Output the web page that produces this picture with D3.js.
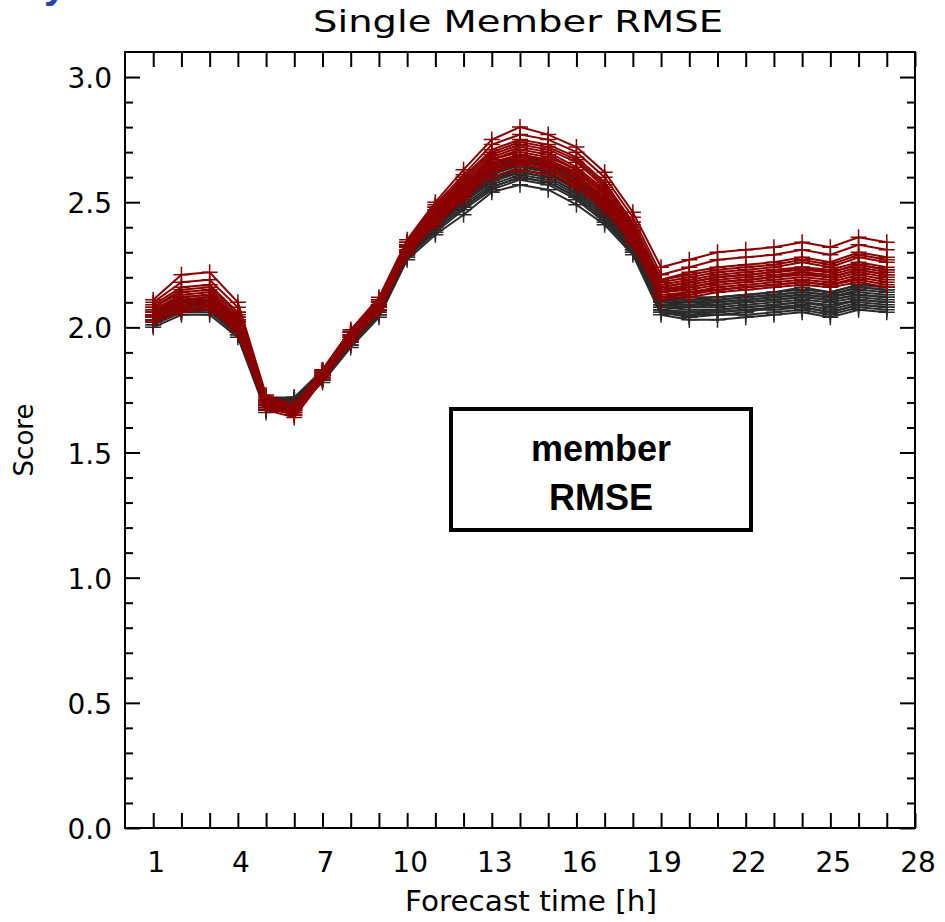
<!DOCTYPE html>
<html>
<head>
<meta charset="utf-8">
<script src="https://cdn.jsdelivr.net/npm/d3@7"></script>
<style>
  body { margin: 0; background: #fff; }
  svg { display: block; }
</style>
</head>
<body>
<div id="chart"></div>
<script>
var hours = [1,2,3,4,5,6,7,8,9,10,11,12,13,14,15,16,17,18,19,20,21,22,23,24,25,26,27];
var xTickLabels = [1,4,7,10,13,16,19,22,25,28];
var yTickLabels = [0.0,0.5,1.0,1.5,2.0,2.5,3.0];

// grey members (drawn first, underneath)
var greyMembers = [
  [2.00,2.05,2.05,1.96,1.66,1.67,1.78,1.92,2.04,2.27,2.37,2.45,2.54,2.57,2.55,2.49,2.41,2.29,2.05,2.03,2.03,2.04,2.05,2.06,2.04,2.07,2.06],
  [2.01,2.06,2.06,1.97,1.67,1.68,1.79,1.93,2.05,2.28,2.38,2.47,2.55,2.59,2.57,2.51,2.42,2.30,2.06,2.04,2.05,2.05,2.06,2.07,2.05,2.08,2.07],
  [2.01,2.07,2.08,1.97,1.67,1.68,1.79,1.93,2.05,2.28,2.39,2.48,2.56,2.60,2.58,2.52,2.43,2.31,2.07,2.05,2.06,2.07,2.07,2.08,2.06,2.09,2.08],
  [2.02,2.06,2.07,1.98,1.68,1.68,1.79,1.94,2.06,2.29,2.39,2.48,2.56,2.60,2.58,2.52,2.43,2.30,2.06,2.05,2.05,2.06,2.08,2.08,2.06,2.09,2.08],
  [2.02,2.07,2.07,1.98,1.68,1.69,1.80,1.94,2.06,2.29,2.40,2.49,2.57,2.61,2.59,2.53,2.44,2.31,2.07,2.06,2.06,2.07,2.08,2.09,2.07,2.10,2.09],
  [2.03,2.07,2.08,1.99,1.69,1.70,1.80,1.95,2.07,2.30,2.40,2.50,2.59,2.62,2.60,2.54,2.45,2.32,2.07,2.06,2.07,2.08,2.09,2.10,2.08,2.11,2.10],
  [2.03,2.08,2.08,1.99,1.69,1.69,1.80,1.95,2.07,2.30,2.41,2.50,2.58,2.62,2.60,2.54,2.45,2.32,2.08,2.07,2.07,2.08,2.09,2.10,2.09,2.11,2.10],
  [2.03,2.08,2.09,2.00,1.69,1.70,1.81,1.95,2.07,2.30,2.41,2.51,2.59,2.63,2.61,2.55,2.46,2.32,2.08,2.08,2.08,2.09,2.10,2.11,2.10,2.12,2.11],
  [2.04,2.09,2.09,2.00,1.70,1.70,1.81,1.96,2.08,2.31,2.42,2.52,2.60,2.64,2.62,2.56,2.47,2.33,2.09,2.08,2.09,2.10,2.11,2.12,2.11,2.13,2.12],
  [2.04,2.10,2.09,2.01,1.70,1.71,1.81,1.96,2.08,2.31,2.42,2.52,2.61,2.65,2.62,2.56,2.47,2.33,2.09,2.09,2.09,2.10,2.11,2.12,2.11,2.13,2.12],
  [2.04,2.09,2.10,2.01,1.70,1.70,1.81,1.96,2.08,2.31,2.43,2.53,2.61,2.65,2.63,2.57,2.47,2.34,2.10,2.09,2.10,2.11,2.12,2.13,2.12,2.14,2.13],
  [2.05,2.10,2.10,2.01,1.70,1.71,1.82,1.97,2.09,2.32,2.43,2.53,2.62,2.66,2.64,2.58,2.48,2.34,2.10,2.10,2.10,2.11,2.12,2.13,2.12,2.15,2.14],
  [2.05,2.10,2.11,2.02,1.71,1.71,1.82,1.97,2.09,2.32,2.44,2.54,2.63,2.67,2.64,2.58,2.49,2.35,2.11,2.10,2.11,2.12,2.13,2.14,2.13,2.16,2.15],
  [2.05,2.11,2.11,2.02,1.71,1.72,1.82,1.97,2.09,2.32,2.44,2.55,2.64,2.67,2.65,2.59,2.50,2.35,2.11,2.11,2.11,2.12,2.13,2.14,2.13,2.16,2.15],
  [2.06,2.11,2.11,2.02,1.71,1.72,1.82,1.98,2.10,2.33,2.45,2.55,2.64,2.68,2.65,2.59,2.50,2.36,2.12,2.11,2.12,2.13,2.14,2.15,2.14,2.17,2.16],
  [2.06,2.11,2.12,2.03,1.72,1.72,1.83,1.98,2.10,2.33,2.45,2.56,2.65,2.69,2.66,2.60,2.51,2.37,2.12,2.12,2.12,2.13,2.14,2.16,2.14,2.17,2.16]
];

// red members (on top)
var redMembers = [
  [2.02,2.06,2.07,1.98,1.67,1.64,1.79,1.94,2.06,2.29,2.41,2.51,2.60,2.63,2.61,2.56,2.47,2.33,2.11,2.12,2.14,2.15,2.16,2.17,2.16,2.18,2.16],
  [2.03,2.07,2.08,1.99,1.68,1.65,1.80,1.94,2.07,2.30,2.42,2.52,2.62,2.65,2.63,2.57,2.48,2.34,2.12,2.13,2.15,2.16,2.17,2.18,2.17,2.19,2.17],
  [2.03,2.08,2.09,2.00,1.68,1.65,1.80,1.95,2.07,2.30,2.43,2.53,2.62,2.66,2.64,2.58,2.49,2.35,2.12,2.14,2.15,2.16,2.17,2.18,2.17,2.20,2.18],
  [2.04,2.08,2.09,2.00,1.68,1.66,1.80,1.95,2.07,2.30,2.43,2.53,2.63,2.66,2.64,2.58,2.49,2.35,2.13,2.14,2.16,2.17,2.18,2.19,2.18,2.21,2.19],
  [2.05,2.09,2.10,2.01,1.69,1.66,1.81,1.95,2.08,2.31,2.44,2.54,2.64,2.67,2.65,2.60,2.50,2.36,2.14,2.15,2.17,2.18,2.19,2.20,2.19,2.22,2.20],
  [2.05,2.10,2.11,2.02,1.69,1.67,1.81,1.96,2.08,2.31,2.44,2.55,2.65,2.68,2.66,2.61,2.51,2.37,2.14,2.16,2.18,2.19,2.20,2.21,2.20,2.23,2.21],
  [2.05,2.10,2.11,2.02,1.69,1.66,1.81,1.96,2.08,2.31,2.45,2.55,2.65,2.69,2.67,2.61,2.52,2.37,2.15,2.16,2.18,2.19,2.20,2.22,2.20,2.23,2.21],
  [2.06,2.11,2.12,2.03,1.70,1.67,1.81,1.96,2.09,2.32,2.45,2.56,2.66,2.69,2.67,2.62,2.53,2.38,2.15,2.17,2.19,2.20,2.21,2.22,2.21,2.24,2.22],
  [2.06,2.12,2.13,2.03,1.70,1.67,1.82,1.97,2.09,2.32,2.46,2.57,2.67,2.71,2.69,2.63,2.54,2.39,2.16,2.18,2.20,2.21,2.22,2.24,2.22,2.25,2.23],
  [2.07,2.12,2.13,2.04,1.70,1.68,1.82,1.97,2.09,2.32,2.46,2.57,2.67,2.70,2.68,2.63,2.54,2.39,2.16,2.18,2.20,2.21,2.22,2.23,2.22,2.25,2.23],
  [2.07,2.13,2.14,2.04,1.71,1.68,1.82,1.97,2.10,2.33,2.47,2.58,2.68,2.72,2.70,2.64,2.55,2.40,2.17,2.19,2.21,2.22,2.23,2.24,2.23,2.26,2.24],
  [2.08,2.14,2.15,2.05,1.71,1.68,1.82,1.98,2.10,2.33,2.47,2.59,2.69,2.73,2.71,2.66,2.56,2.41,2.18,2.20,2.22,2.23,2.24,2.26,2.24,2.28,2.26],
  [2.08,2.15,2.16,2.06,1.71,1.68,1.82,1.98,2.10,2.33,2.48,2.60,2.70,2.74,2.72,2.67,2.57,2.42,2.19,2.21,2.23,2.24,2.25,2.27,2.25,2.29,2.27],
  [2.09,2.16,2.17,2.06,1.72,1.69,1.83,1.98,2.11,2.34,2.48,2.60,2.71,2.75,2.73,2.68,2.58,2.42,2.19,2.22,2.24,2.25,2.26,2.28,2.26,2.30,2.28],
  [2.10,2.18,2.19,2.08,1.72,1.69,1.83,1.99,2.11,2.34,2.49,2.61,2.73,2.77,2.75,2.70,2.60,2.44,2.21,2.24,2.27,2.28,2.29,2.31,2.29,2.33,2.31],
  [2.11,2.21,2.22,2.10,1.73,1.69,1.83,1.99,2.12,2.35,2.50,2.63,2.75,2.80,2.77,2.72,2.62,2.46,2.24,2.27,2.30,2.31,2.32,2.34,2.32,2.36,2.34]
];

var width = 945, height = 922;
var margin = {left: 125, right: 30, top: 52, bottom: 94};
var plotW = width - margin.left - margin.right;
var plotH = height - margin.top - margin.bottom;
var tickFont = "'DejaVu Sans', sans-serif";

var svg = d3.select('#chart')
    .append('svg')
    .attr('width', width)
    .attr('height', height);

// cut-off blue heading from the slide above
svg.append('text')
    .attr('x', 44)
    .attr('y', -2)
    .attr('font-family', 'Liberation Sans, Arial, sans-serif')
    .attr('font-weight', 'bold')
    .attr('font-size', 40)
    .attr('fill', '#2b44a8')
    .text('y');

var x = d3.scaleLinear().domain([0, 28]).range([0, plotW]);
var y = d3.scaleLinear().domain([0, 3.1]).range([plotH, 0]);

var g = svg.append('g')
    .attr('transform', `translate(${margin.left},${margin.top})`);

// frame
g.append('rect')
    .attr('width', plotW)
    .attr('height', plotH)
    .attr('fill', 'none')
    .attr('stroke', '#000')
    .attr('stroke-width', 2);

// x ticks: every hour, labels every 3
var xAxisB = d3.axisBottom(x).tickValues(d3.range(1, 29)).tickSize(-15).tickFormat('');
var xAxisT = d3.axisTop(x).tickValues(d3.range(1, 29)).tickSize(-15).tickFormat('');
g.append('g').attr('class', 'ax').attr('transform', `translate(0,${plotH})`).call(xAxisB);
g.append('g').attr('class', 'ax').call(xAxisT);

var yMinor = d3.range(1, 31).map(d => d / 10).filter(d => Math.round(d * 10) % 5 != 0);
g.append('g').attr('class', 'ax').call(d3.axisLeft(y).tickValues(yTickLabels).tickSize(-15).tickFormat(''));
g.append('g').attr('class', 'ax').call(d3.axisLeft(y).tickValues(yMinor).tickSize(-8).tickFormat(''));
g.append('g').attr('class', 'ax').attr('transform', `translate(${plotW},0)`)
    .call(d3.axisRight(y).tickValues(yTickLabels).tickSize(-15).tickFormat(''));
g.append('g').attr('class', 'ax').attr('transform', `translate(${plotW},0)`)
    .call(d3.axisRight(y).tickValues(yMinor).tickSize(-8).tickFormat(''));

g.selectAll('.ax .domain').remove();
g.selectAll('.ax line').attr('stroke', '#000').attr('stroke-width', 2);

// tick labels
g.selectAll('.xlab')
    .data(xTickLabels)
    .enter()
    .append('text')
    .attr('x', d => x(d) + 3)
    .attr('y', plotH + 44)
    .attr('text-anchor', 'middle')
    .attr('font-family', tickFont)
    .attr('font-size', 28)
    .attr('fill', '#000')
    .text(d => d);

g.selectAll('.ylab')
    .data(yTickLabels)
    .enter()
    .append('text')
    .attr('x', -13)
    .attr('y', d => y(d) + 11)
    .attr('text-anchor', 'end')
    .attr('font-family', tickFont)
    .attr('font-size', 28)
    .attr('fill', '#000')
    .text(d => d3.format('.1f')(d));

// titles
svg.append('text')
    .attr('x', 313)
    .attr('y', 32)
    .attr('textLength', 410)
    .attr('lengthAdjust', 'spacingAndGlyphs')
    .attr('font-family', tickFont)
    .attr('font-size', 30)
    .attr('fill', '#000')
    .text('Single Member RMSE');

svg.append('text')
    .attr('x', 405)
    .attr('y', 911)
    .attr('textLength', 252)
    .attr('lengthAdjust', 'spacingAndGlyphs')
    .attr('font-family', tickFont)
    .attr('font-size', 29)
    .attr('fill', '#000')
    .text('Forecast time [h]');

svg.append('text')
    .attr('transform', 'translate(33,440) rotate(-90)')
    .attr('text-anchor', 'middle')
    .attr('font-family', tickFont)
    .attr('font-size', 26)
    .attr('fill', '#000')
    .text('Score');

// member lines with + markers
var line = d3.line()
    .x((d, i) => x(hours[i]))
    .y(d => y(d));

function drawMembers(data, color) {
    var grp = g.append('g');
    data.forEach(function(vals) {
        grp.append('path')
            .attr('d', line(vals))
            .attr('fill', 'none')
            .attr('stroke', color)
            .attr('stroke-width', 2);
        grp.selectAll(null)
            .data(vals)
            .enter()
            .append('path')
            .attr('d', (d, i) => {
                var px = x(hours[i]), py = y(d), s = 8;
                return `M${px - s},${py}H${px + s}M${px},${py - s}V${py + s}`;
            })
            .attr('stroke', color)
            .attr('stroke-width', 1.5);
    });
}

drawMembers(greyMembers, '#2b2b2b');
drawMembers(redMembers, '#8b0000');

// annotation box
svg.append('rect')
    .attr('x', 451)
    .attr('y', 409)
    .attr('width', 300)
    .attr('height', 121)
    .attr('fill', '#fff')
    .attr('stroke', '#000')
    .attr('stroke-width', 4);

svg.append('text')
    .attr('x', 601)
    .attr('y', 461)
    .attr('text-anchor', 'middle')
    .attr('font-family', 'Liberation Sans, Arial, sans-serif')
    .attr('font-weight', 'bold')
    .attr('font-size', 36)
    .text('member');

svg.append('text')
    .attr('x', 601)
    .attr('y', 510)
    .attr('text-anchor', 'middle')
    .attr('font-family', 'Liberation Sans, Arial, sans-serif')
    .attr('font-weight', 'bold')
    .attr('font-size', 36)
    .text('RMSE');
</script>
</body>
</html>
